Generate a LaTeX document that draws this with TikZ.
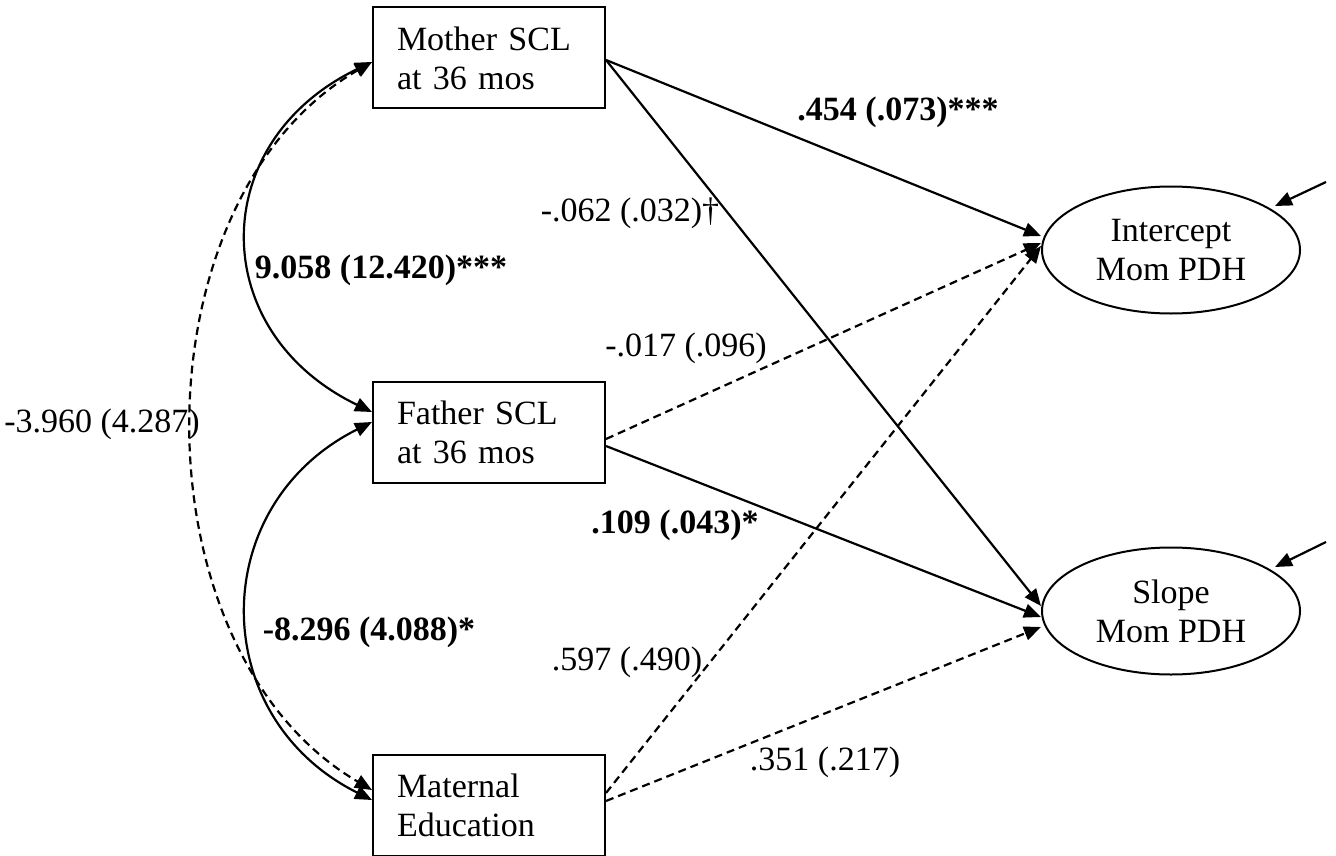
\documentclass[tikz,border=0pt]{standalone}
\usepackage{fontspec}
\setmainfont{Liberation Serif}
\usetikzlibrary{arrows.meta,shapes.geometric}
\begin{document}
\begin{tikzpicture}[x=1pt,y=-1pt,
  every node/.style={font=\fontsize{34}{39}\selectfont},
  varbox/.style={draw,line width=2pt,minimum height=101pt,text width=184pt,
    inner xsep=24pt,align=left},
  latent/.style={draw,ellipse,line width=2pt,minimum width=258pt,
    minimum height=127pt,inner sep=0pt,align=center},
  path/.style={line width=2.2pt,-{Triangle[length=17pt,width=14pt]}},
  cov/.style={line width=2.2pt,{Triangle[length=17pt,width=14pt]}-{Triangle[length=17pt,width=14pt]}},
  ns/.style={dash pattern=on 8pt off 5pt},
  est/.style={inner sep=0pt},
  sig/.style={inner sep=0pt,font=\fontsize{34}{39}\selectfont\bfseries}]
\useasboundingbox (0,0) rectangle (1336,856);

% observed predictors
\node[varbox] (mom) at (489,58) {Mother SCL\\at 36 mos};
\node[varbox] (dad) at (489,432) {Father SCL\\at 36 mos};
\node[varbox] (edu) at (489,805) {Maternal\\Education};

% latent growth factors
\node[latent] (int) at (1171,250) {Intercept\\Mom PDH};
\node[latent] (slp) at (1171,611) {Slope\\Mom PDH};

% residual disturbances
\coordinate (eint) at (1326,182);
\coordinate (eslp) at (1326,542);
\draw[path] (eint) -- (1275,206);
\draw[path] (eslp) -- (1275,567);

% covariances among predictors
\draw[cov] ([yshift=-4pt]mom.west) .. controls (206,142) and (206,332) .. ([yshift=20pt]dad.west);
\draw[cov] ([yshift=10pt]dad.west) .. controls (206,505) and (206,717) .. ([yshift=5pt]edu.west);
\draw[cov,ns] ([yshift=-4pt]mom.west) .. controls (133,200) and (133,650) .. ([yshift=15pt]edu.west);

% regression paths
\draw[path] ([yshift=-2pt]mom.east) -- ([yshift=14pt]int.west);
\draw[path] ([yshift=-2pt]mom.east) -- ([yshift=5pt]slp.west);
\draw[path,ns] ([yshift=-7pt]dad.east) -- ([yshift=7pt]int.west);
\draw[path] ([yshift=-14pt]dad.east) -- ([yshift=-6pt]slp.west);
\draw[path,ns] ([yshift=12pt]edu.east) -- ([yshift=4pt]int.west);
\draw[path,ns] ([yshift=4pt]edu.east) -- ([yshift=-16pt]slp.west);

% estimates (standard errors)
\node[sig] (l1) at (898,112) {.454 (.073)***};
\node[est] (l2) at (630,213) {-.062 (.032)\textdagger};
\node[sig] (l3) at (381,270) {9.058 (12.420)***};
\node[est] (l4) at (686,348) {-.017 (.096)};
\node[est] (l5) at (102,424) {-3.960 (4.287)};
\node[sig] (l6) at (675,525) {.109 (.043)*};
\node[sig] (l7) at (369,632) {-8.296 (4.088)*};
\node[est] (l8) at (627,662) {.597 (.490)};
\node[est] (l9) at (825,762) {.351 (.217)};
\end{tikzpicture}
\end{document}
